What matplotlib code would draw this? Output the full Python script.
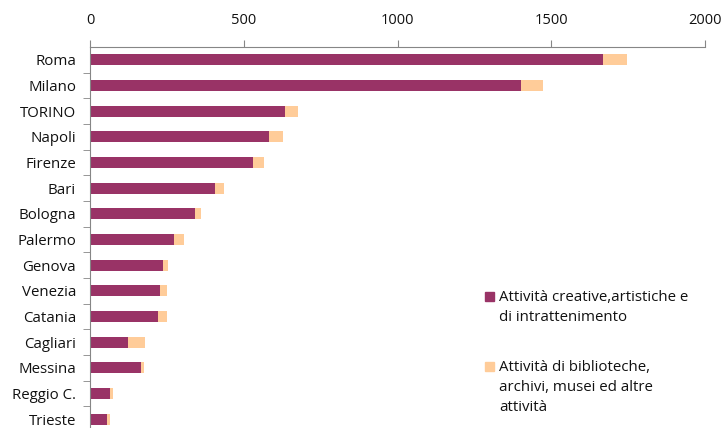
import matplotlib.pyplot as plt
from matplotlib.patches import Rectangle
import numpy as np

cities = ['Roma', 'Milano', 'TORINO', 'Napoli', 'Firenze', 'Bari', 'Bologna',
          'Palermo', 'Genova', 'Venezia', 'Catania', 'Cagliari', 'Messina',
          'Reggio C.', 'Trieste']
creative = [1668, 1401, 635, 583, 531, 407, 342, 274, 238, 228, 222, 124, 167, 66, 56]
biblio = [78, 72, 42, 45, 35, 30, 20, 32, 16, 23, 29, 56, 10, 10, 10]
labels = ['Attività creative,artistiche e\ndi intrattenimento',
          'Attività di biblioteche,\narchivi, musei ed altre\nattività']
xticks = [0, 500, 1000, 1500, 2000]

purple = '#993366'
orange = '#FFCC99'
grey = '#868686'

plt.rcParams['font.family'] = 'Open Sans'

W, H = 726, 428
fig = plt.figure(figsize=(W / 100, H / 100), dpi=100)
ax = fig.add_axes([90 / W, (H - 432) / H, 615 / W, 385 / H])

y = np.arange(len(cities))
ax.barh(y, creative, height=0.43, color=purple)
ax.barh(y, biblio, left=creative, height=0.43, color=orange)

ax.set_xlim(0, 2000)
ax.set_ylim(len(cities) - 0.5, -0.5)

ax.xaxis.tick_top()
ax.set_xticks(xticks)
ax.set_xticklabels([str(v) for v in xticks], fontsize=10.5, color='#111111')
ax.tick_params(axis='x', direction='out', length=5, color=grey, pad=9)

ax.set_yticks(y)
ax.set_yticklabels(cities, fontsize=10.8, color='#111111')
ax.set_yticks(np.arange(len(cities)) + 0.5, minor=True)
ax.tick_params(axis='y', which='major', length=0, pad=10)
ax.tick_params(axis='y', which='minor', length=5, color=grey)

for s in ['right', 'bottom']:
    ax.spines[s].set_visible(False)
for s in ['top', 'left']:
    ax.spines[s].set_color(grey)

# legend drawn by hand: square aligned with first text line
leg = [(purple, 292, labels[0]), (orange, 362, labels[1])]
for col, top, txt in leg:
    fig.add_artist(Rectangle((485 / W, 1 - (top + 9) / H), 9 / W, 9 / H,
                             transform=fig.transFigure, color=col))
    fig.text(499 / W, 1 - (top - 2) / H, txt, fontsize=10.8, va='top',
             ha='left', linespacing=1.45, color='#111111')

fig.savefig('out.png', dpi=100)
